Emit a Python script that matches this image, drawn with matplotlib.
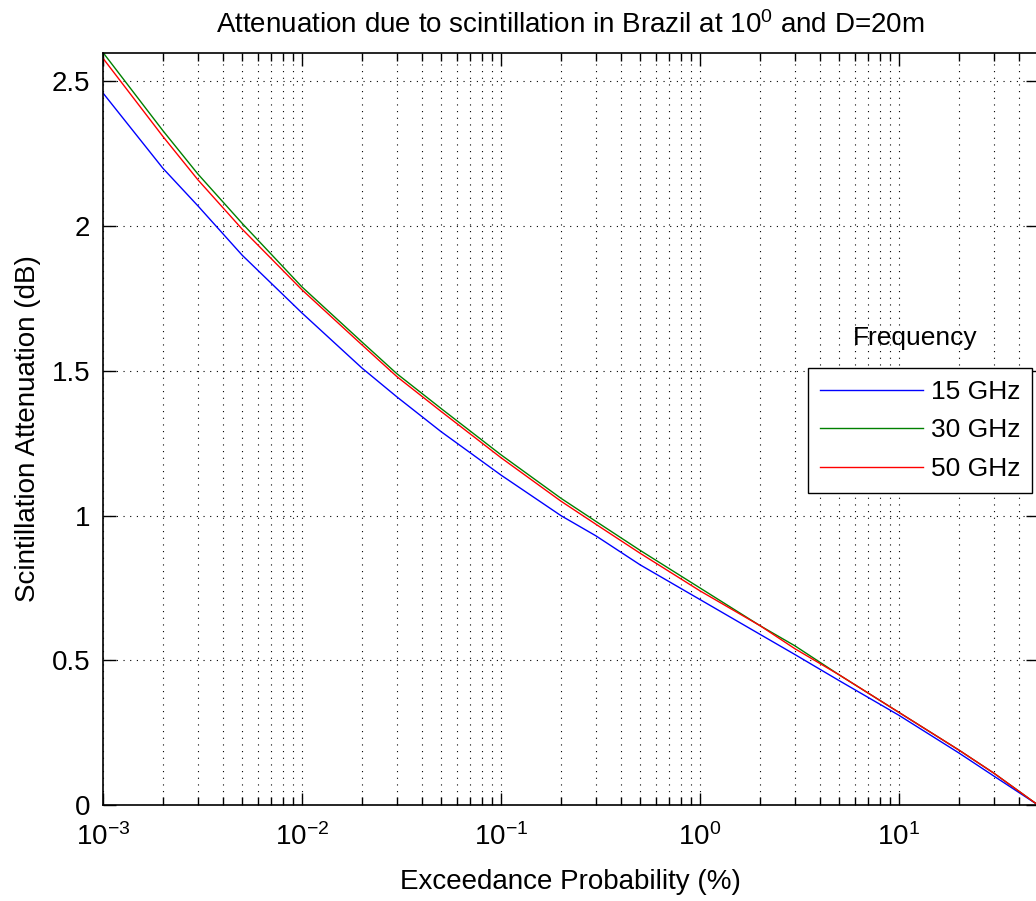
import matplotlib
matplotlib.use("Agg")
import matplotlib.pyplot as plt
from matplotlib.ticker import LogLocator, NullFormatter, FixedLocator

# exceedance probability (%) and attenuation (dB)
prob = [0.001, 0.002, 0.003, 0.005, 0.01, 0.02, 0.03, 0.05, 0.1, 0.2, 0.3, 0.5,
        1, 2, 3, 5, 10, 20, 30, 50]
att_15 = [2.46, 2.20, 2.07, 1.90, 1.70, 1.51, 1.41, 1.29, 1.14, 1.00, 0.93, 0.83,
          0.71, 0.59, 0.52, 0.43, 0.31, 0.18, 0.10, 0.00]
att_30 = [2.60, 2.33, 2.18, 2.01, 1.79, 1.60, 1.49, 1.37, 1.21, 1.06, 0.98, 0.88,
          0.75, 0.62, 0.55, 0.45, 0.32, 0.19, 0.11, 0.00]
att_50 = [2.58, 2.31, 2.16, 1.99, 1.78, 1.59, 1.48, 1.36, 1.20, 1.05, 0.97, 0.87,
          0.74, 0.62, 0.54, 0.45, 0.32, 0.19, 0.11, 0.00]
labels = ['15 GHz', '30 GHz', '50 GHz']
colors = ['#0000ff', '#008000', '#ff0000']
yticks = [0, 0.5, 1, 1.5, 2, 2.5]
ytick_labels = ['0', '0.5', '1', '1.5', '2', '2.5']

plt.rcParams['font.family'] = ['Liberation Sans', 'DejaVu Sans']
plt.rcParams['mathtext.fontset'] = 'custom'
plt.rcParams['mathtext.rm'] = 'Liberation Sans'
plt.rcParams['mathtext.it'] = 'Liberation Sans'

W, H = 1036, 901
fig = plt.figure(figsize=(W / 100, H / 100), dpi=100)
left, right, top, bottom = 103, 1038, 52.5, 805
ax = fig.add_axes([left / W, 1 - bottom / H, (right - left) / W, (bottom - top) / H])

for y, lab, c in zip([att_15, att_30, att_50], labels, colors):
    ax.plot(prob, y, color=c, linewidth=1.0, label=lab)

ax.set_xscale('log')
ax.set_xlim(1e-3, 50)
ax.set_ylim(0, 2.6)
ax.yaxis.set_major_locator(FixedLocator(yticks))
ax.set_yticklabels(ytick_labels)
ax.xaxis.set_major_locator(LogLocator(base=10, numticks=10))
ax.xaxis.set_minor_locator(LogLocator(base=10, subs=range(2, 10), numticks=20))
ax.xaxis.set_minor_formatter(NullFormatter())

ax.grid(True, which='major', linestyle=(0, (1, 5)), color='black', linewidth=0.8)
ax.grid(True, which='minor', axis='x', linestyle=(0, (1, 5)), color='black', linewidth=0.8)
ax.tick_params(which='both', direction='in', top=True, right=True, labelsize=20)
ax.tick_params(axis='x', pad=13)
ax.tick_params(axis='y', pad=9)
ax.tick_params(which='major', length=9, width=1)
ax.tick_params(which='minor', length=6, width=1)
for s in ax.spines.values():
    s.set_linewidth(1.2)

ax.set_title('Attenuation due to scintillation in Brazil at 10$^0$ and D=20m', fontsize=20, pad=14)
ax.set_xlabel('Exceedance Probability (%)', fontsize=20, labelpad=13)
ax.set_ylabel('Scintillation Attenuation (dB)', fontsize=20, labelpad=8)

leg = ax.legend(loc='upper left', bbox_to_anchor=(808 / W, 1 - 368 / H), bbox_transform=fig.transFigure,
                fontsize=19, frameon=True, fancybox=False, edgecolor='black', framealpha=1,
                handlelength=3.9, handletextpad=0.3, labelspacing=0.55, borderpad=0.45,
                borderaxespad=0)
leg.get_frame().set_linewidth(1.0)
fig.text(915 / W, 1 - 338 / H, 'Frequency', fontsize=19, ha='center', va='center')

fig.savefig('out.png', dpi=100)
